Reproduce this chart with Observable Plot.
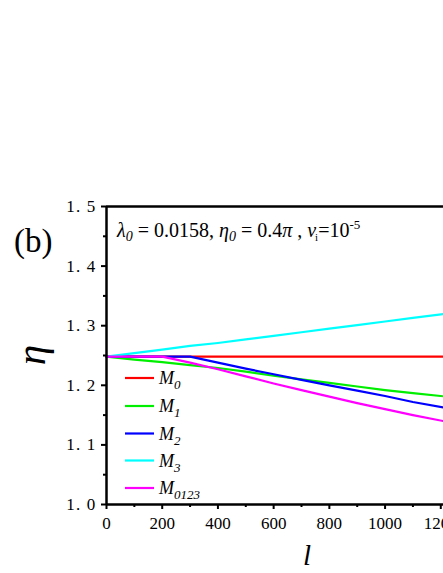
<!DOCTYPE html>
<html><head><meta charset="utf-8">
<script src="https://cdn.jsdelivr.net/npm/d3@7"></script>
<script src="https://cdn.jsdelivr.net/npm/@observablehq/plot@0.6"></script>
<style>
html,body{margin:0;padding:0;background:#fff;overflow:hidden;width:443px;height:573px;}
#chart{position:relative;width:443px;height:573px;overflow:hidden;}
#chart svg{max-width:none !important;width:520px !important;height:573px !important;display:block;}
</style></head>
<body><div id="chart"></div>
<script>
const ls = [0, 100, 200, 300, 400, 500, 600, 700, 800, 900, 1000, 1100, 1220];
const M0 = [1.248, 1.248, 1.248, 1.248, 1.248, 1.248, 1.248, 1.248, 1.248, 1.248, 1.248, 1.248, 1.248];
const M1 = [1.248, 1.243, 1.239, 1.234, 1.229, 1.223, 1.216, 1.210, 1.204, 1.198, 1.192, 1.187, 1.181];
const M2 = [1.248, 1.248, 1.248, 1.248, 1.238, 1.228, 1.2185, 1.209, 1.200, 1.191, 1.182, 1.172, 1.162];
const M3 = [1.248, 1.254, 1.260, 1.266, 1.271, 1.277, 1.283, 1.289, 1.295, 1.301, 1.307, 1.313, 1.320];
const M0123 = [1.248, 1.248, 1.248, 1.238, 1.227, 1.215, 1.203, 1.192, 1.181, 1.170, 1.160, 1.150, 1.139];
const seriesNames = ["M0", "M1", "M2", "M3", "M0123"];
const seriesSubs = ["0", "1", "2", "3", "0123"];
const seriesColors = ["#ff0000", "#00ee00", "#0000ff", "#00ffff", "#ff00ff"];
const xMajor = [0, 200, 400, 600, 800, 1000, 1200, 1400];
const xMinor = [100, 300, 500, 700, 900, 1100, 1300];
const yMajor = [1.0, 1.1, 1.2, 1.3, 1.4, 1.5];
const yMinor = [1.05, 1.15, 1.25, 1.35, 1.45];

const allSeries = [M0, M1, M2, M3, M0123];
const data = [];
allSeries.forEach((vals, i) => vals.forEach((v, j) => data.push({l: ls[j], eta: v, series: seriesNames[i]})));

const font = "'Liberation Serif', 'Times New Roman', serif";
const fmtY = d => d.toFixed(1).replace(".", ". ");

const plot = Plot.plot({
  width: 520, height: 573,
  marginLeft: 106, marginRight: 24, marginTop: 206, marginBottom: 69,
  x: {domain: [0, 1400]},
  y: {domain: [1.0, 1.5]},
  color: {domain: seriesNames, range: seriesColors},
  style: {fontFamily: font, fontSize: "16px", color: "#000", background: "#fff", maxWidth: "none"},
  marks: [
    Plot.line(data, {x: "l", y: "eta", stroke: "series", z: "series", strokeWidth: 2.2}),
    Plot.ruleX([0], {strokeWidth: 2.5}),
    Plot.ruleY([1.0], {strokeWidth: 2.5}),
    Plot.ruleY([1.5], {strokeWidth: 2.5}),
    Plot.axisX({ticks: xMajor, tickSize: 5, strokeWidth: 2, tickPadding: 7, tickFormat: d => String(d), label: null, fontSize: 17}),
    Plot.axisX({ticks: xMinor, tickSize: 3, strokeWidth: 2, tickFormat: () => "", label: null}),
    Plot.axisY({ticks: yMajor, tickSize: 5, strokeWidth: 2, tickPadding: 5, tickFormat: fmtY, label: null, fontSize: 17}),
    Plot.axisY({ticks: yMinor, tickSize: 3, strokeWidth: 2, tickFormat: () => "", label: null})
  ]
});
document.getElementById("chart").appendChild(plot);

const svg = d3.select(plot);
svg.selectAll('g[aria-label="y-axis tick label"] text').attr("letter-spacing", "1.2px");

// panel label
svg.append("text").attr("x", 14).attr("y", 252).attr("text-anchor", "start")
  .attr("font-family", font).attr("font-size", 33).text("(b)");
// parameter annotation
const ann = svg.append("text").attr("x", 117).attr("y", 237).attr("text-anchor", "start")
  .attr("font-family", font).attr("font-size", 20);
ann.append("tspan").attr("font-style", "italic").text("λ");
ann.append("tspan").attr("font-style", "italic").attr("font-size", 14).attr("dy", 4).text("0");
ann.append("tspan").attr("dy", -4).text(" = 0.0158, ");
ann.append("tspan").attr("font-style", "italic").text("η");
ann.append("tspan").attr("font-style", "italic").attr("font-size", 14).attr("dy", 4).text("0");
ann.append("tspan").attr("dy", -4).text(" = 0.4");
ann.append("tspan").attr("font-style", "italic").text("π");
ann.append("tspan").text(" , ");
ann.append("tspan").attr("font-style", "italic").text("ν");
ann.append("tspan").attr("font-size", 11).attr("dy", 4).attr("dx", -1).text("i");
ann.append("tspan").attr("dy", -4).text("=10");
ann.append("tspan").attr("font-size", 13).attr("dy", -8).text("-5");
// axis titles
svg.append("text").attr("transform", "translate(45,355) rotate(-90)").attr("text-anchor", "middle")
  .attr("font-family", font).attr("font-size", 41).attr("font-style", "italic").text("η");
svg.append("text").attr("x", 307).attr("y", 565).attr("text-anchor", "middle")
  .attr("font-family", font).attr("font-size", 29).attr("font-style", "italic").text("l");
// legend
const legY = [378, 406, 433.5, 460.5, 488];
seriesNames.forEach((name, i) => {
  const g = svg.append("g");
  g.append("line").attr("x1", 125).attr("x2", 154).attr("y1", legY[i]).attr("y2", legY[i])
    .attr("stroke", seriesColors[i]).attr("stroke-width", 2.2);
  const t = g.append("text").attr("x", 159).attr("y", legY[i] + 6).attr("text-anchor", "start")
    .attr("font-family", font).attr("font-size", 18).attr("font-style", "italic");
  t.append("tspan").text("M");
  t.append("tspan").attr("font-size", 13).attr("dy", 5).text(seriesSubs[i]);
});
</script></body></html>
